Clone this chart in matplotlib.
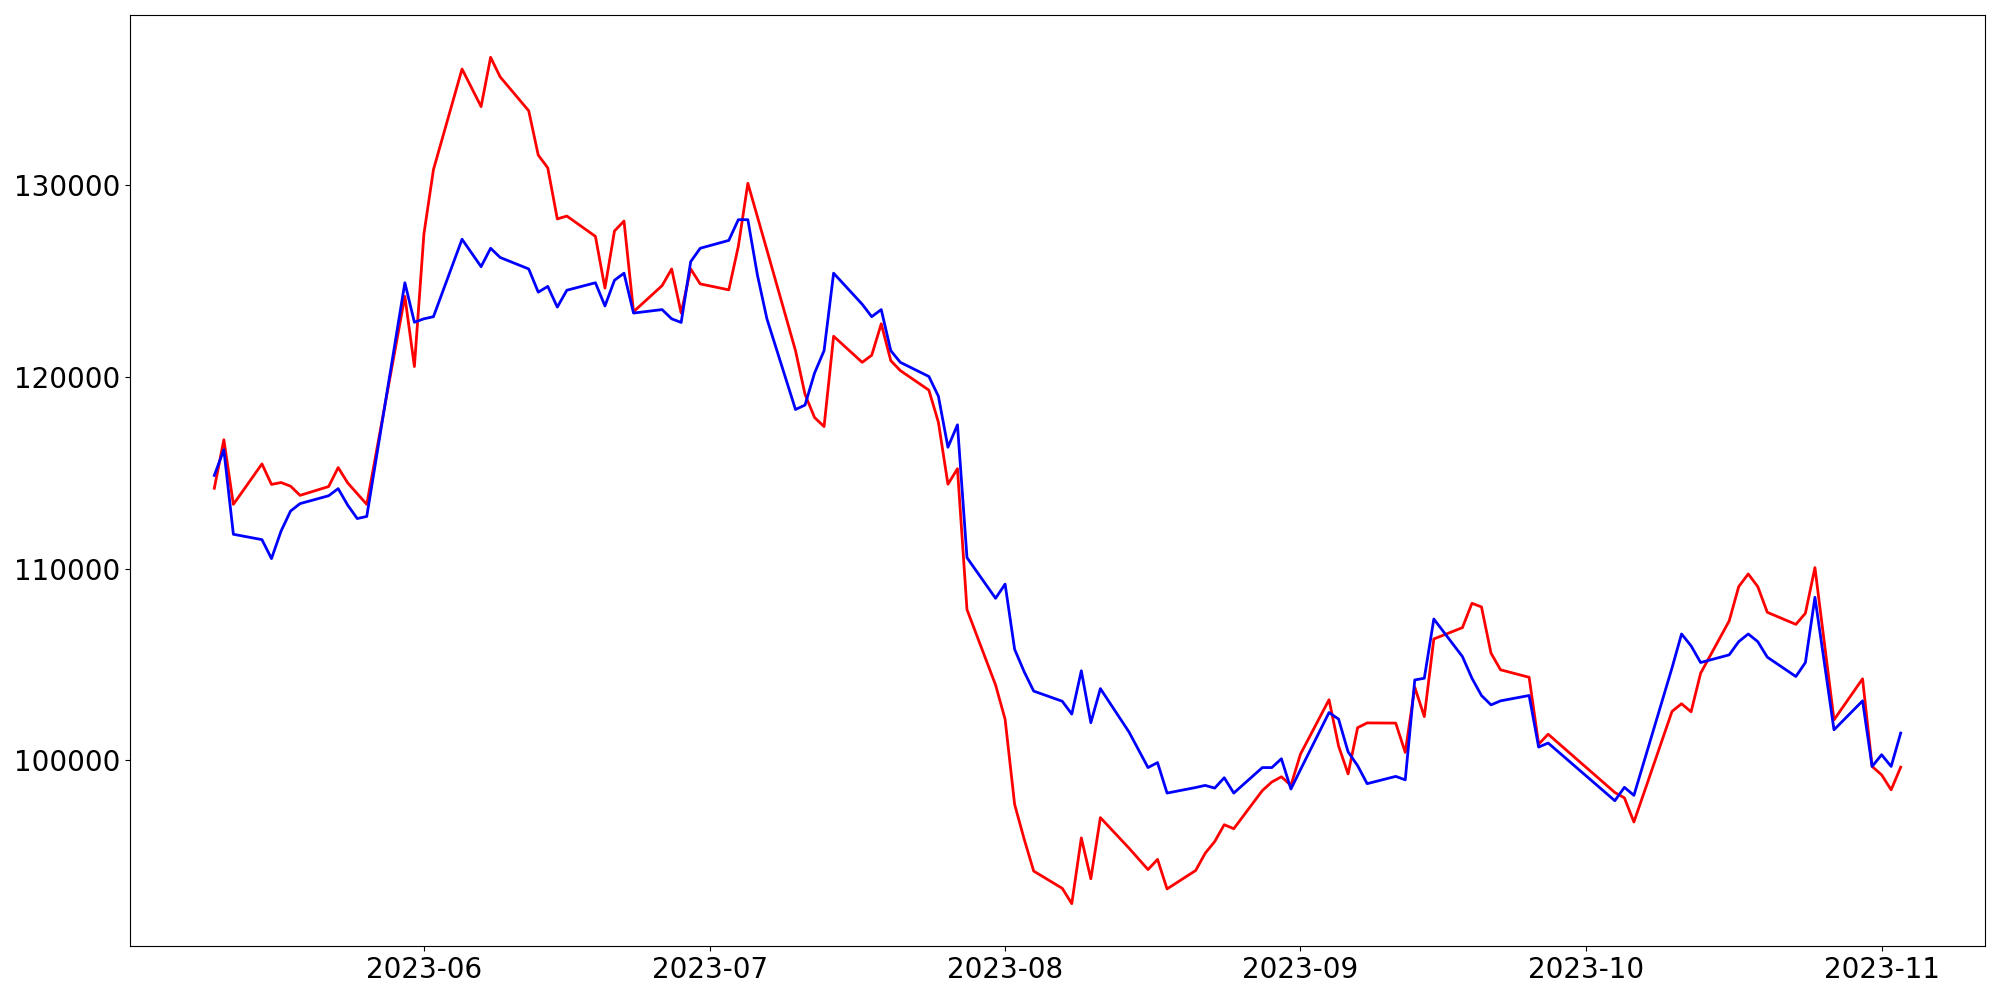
import matplotlib

matplotlib.use("Agg")
import matplotlib.pyplot as plt
import pandas as pd

# trading days (KRX calendar) from 2023-05-10 to 2023-11-03
start, end = "2023-05-10", "2023-11-03"
holidays = ["2023-05-29", "2023-06-06", "2023-08-15", "2023-09-28",
            "2023-09-29", "2023-10-02", "2023-10-03", "2023-10-09"]
dates = pd.bdate_range(start, end)
dates = dates[~dates.isin(pd.to_datetime(holidays))]

red = [
    # May
    114200, 116730, 113360, 115470, 114400, 114500, 114310, 113830, 114290, 115280,
    114480, 113920, 113360, 124210, 120550,
    # June
    127470, 130820, 136070, 134110, 136680, 135660, 133890, 131580, 130910, 128250,
    128400, 127340, 124640, 127620, 128140, 123410, 124770, 125640, 123340, 125640,
    124860,
    # July
    124550, 126820, 130110, 128370, 126630, 121380, 119100, 117890, 117420, 122130,
    120770, 121140, 122780, 120860, 120340, 119320, 117640, 114410, 115220, 107870,
    103940,
    # August
    102150, 97710, 95900, 94230, 93330, 92530, 95960, 93830, 97020, 95430,
    94310, 94840, 93300, 94260, 95160, 95770, 96650, 96440, 98430, 98880,
    99150, 98700,
    # September
    100330, 103170, 100760, 99300, 101710, 101960, 101950, 100420, 103820, 102290,
    106340, 106930, 108200, 108010, 105600, 104730, 104340, 100850, 101370,
    # October
    98330, 98050, 96790, 102560, 102960, 102540, 104550, 107280, 109070, 109730,
    109070, 107730, 107100, 107680, 110060, 106090, 102120, 104260, 99690,
    # November
    99250, 98470, 99650,
]

blue = [
    # May
    114870, 116210, 111800, 111520, 110530, 111960, 113010, 113400, 113810, 114180,
    113320, 112620, 112730, 124920, 122860,
    # June
    123040, 123150, 127190, 125760, 126720, 126240, 125640, 124430, 124730, 123650,
    124530, 124920, 123710, 125050, 125420, 123340, 123520, 123040, 122850, 126020,
    126720,
    # July
    127130, 128210, 128210, 125330, 123040, 118310, 118540, 120210, 121380, 125420,
    123800, 123150, 123520, 121380, 120770, 120030, 119000, 116340, 117510, 110580,
    108460,
    # August
    109200, 105800, 104630, 103620, 103090, 102420, 104680, 101970, 103750, 101490,
    99630, 99890, 98300, 98590, 98700, 98560, 99100, 98300, 99630, 99630,
    100090, 98510,
    # September
    99520, 102500, 102160, 100450, 99730, 98790, 99170, 98990, 104200, 104290,
    107380, 105420, 104290, 103390, 102900, 103110, 103390, 100700, 100910,
    # October
    97900, 98600, 98180, 104830, 106600, 105980, 105110, 105510, 106200, 106600,
    106200, 105390, 104380, 105110, 108510, 105060, 101600, 103110, 99690,
    # November
    100300, 99690, 101430,
]

fig, ax = plt.subplots(figsize=(20, 10), dpi=100)
ax.plot(dates, red, color="red", linewidth=2)
ax.plot(dates, blue, color="blue", linewidth=2)
ax.tick_params(labelsize=20)
fig.subplots_adjust(left=0.065, right=0.9925, top=0.985, bottom=0.054)
fig.savefig("out.png", dpi=100)
plt.close(fig)
